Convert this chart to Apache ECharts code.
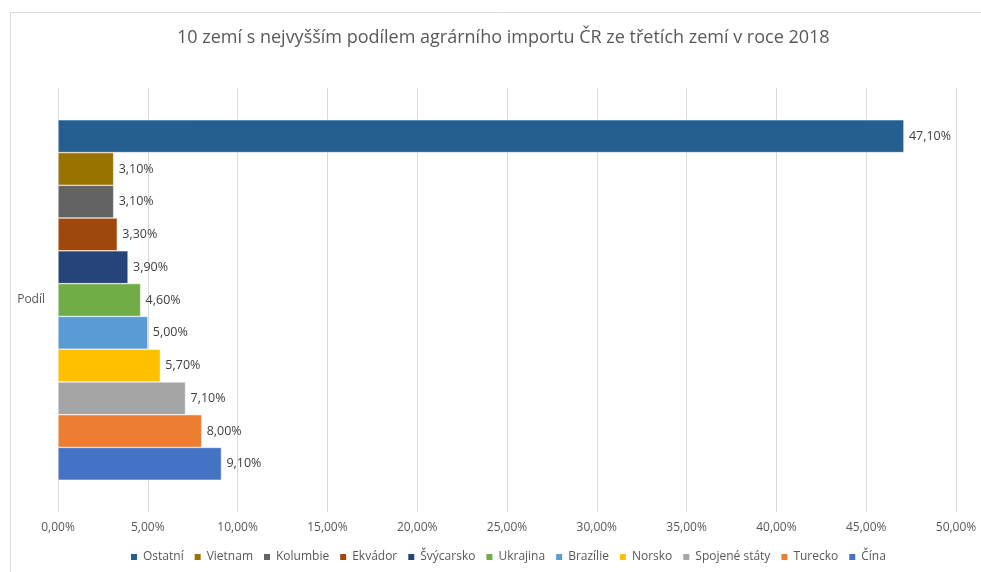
<!DOCTYPE html>
<html>
<head>
<meta charset="utf-8">
<script src="https://cdn.jsdelivr.net/npm/echarts@6/dist/echarts.min.js"></script>
<style>
  html, body { margin: 0; padding: 0; background: #fff; }
  #main { width: 981px; height: 572px; }
</style>
</head>
<body>
<div id="main"></div>
<script>
// legend order (top bar first)
var countries = ['Ostatní', 'Vietnam', 'Kolumbie', 'Ekvádor', 'Švýcarsko', 'Ukrajina', 'Brazílie', 'Norsko', 'Spojené státy', 'Turecko', 'Čína'];
var shares = [47.1, 3.1, 3.1, 3.3, 3.9, 4.6, 5.0, 5.7, 7.1, 8.0, 9.1];
var colors = ['#255E91', '#997300', '#636363', '#9E480E', '#264478', '#70AD47', '#5B9BD5', '#FFC000', '#A5A5A5', '#ED7D31', '#4472C4'];
var categories = ['Podíl'];
var xTicks = [0, 5, 10, 15, 20, 25, 30, 35, 40, 45, 50];

var fontFam = '"Open Sans", "Noto Sans", sans-serif';

function pct(v) {
    return v.toFixed(2).replace('.', ',') + '%';
}

// series 0 ends up at the top of the band here
var series = [];
for (var i = 0; i < countries.length; i++) {
    series.push({
        name: countries[i],
        type: 'bar',
        data: [shares[i]],
        barGap: '0%',
        barCategoryGap: '15%',
        itemStyle: { color: colors[i], borderColor: '#fff', borderWidth: 0.5 },
        label: {
            show: true,
            position: 'right',
            distance: 5,
            color: '#404040',
            fontSize: 12.5,
            fontFamily: fontFam,
            formatter: function (p) { return pct(p.value); }
        }
    });
}

var option = {
    animation: false,
    title: {
        text: '10 zemí s nejvyšším podílem agrárního importu ČR ze třetích zemí v roce 2018',
        left: 172,
        top: 24,
        textStyle: { color: '#595959', fontSize: 18, fontWeight: 'normal', fontFamily: fontFam }
    },
    graphic: [{
        type: 'rect',
        shape: { x: 10.5, y: 12.5, width: 990, height: 600 },
        style: { fill: 'none', stroke: '#d9d9d9', lineWidth: 1 },
        silent: true
    }],
    legend: {
        data: countries,
        bottom: 4,
        left: 124,
        icon: 'rect',
        itemWidth: 8,
        itemHeight: 8,
        itemGap: 9,
        textStyle: { color: '#595959', fontSize: 12, fontFamily: fontFam }
    },
    grid: { left: 58, right: 25, top: 88, bottom: 60, containLabel: false },
    xAxis: {
        type: 'value',
        min: xTicks[0],
        max: xTicks[xTicks.length - 1],
        interval: 5,
        axisLine: { show: false },
        axisTick: { show: false },
        splitLine: { lineStyle: { color: '#d9d9d9' } },
        axisLabel: {
            color: '#595959',
            fontSize: 12,
            fontFamily: fontFam,
            margin: 10,
            formatter: function (v) { return pct(v); }
        }
    },
    yAxis: {
        type: 'category',
        data: categories,
        axisLine: { show: false },
        axisTick: { show: false },
        axisLabel: { color: '#595959', fontSize: 12, fontFamily: fontFam, margin: 13 }
    },
    series: series
};

echarts.init(document.getElementById('main')).setOption(option);
</script>
</body>
</html>
